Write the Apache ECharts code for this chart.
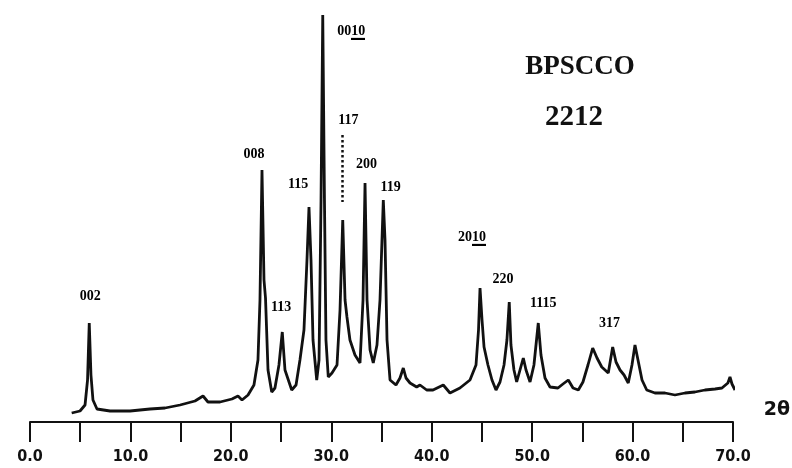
<!DOCTYPE html>
<html>
<head>
<meta charset="utf-8">
<script src="https://cdn.jsdelivr.net/npm/echarts@6/dist/echarts.min.js"></script>
<style>html,body{margin:0;padding:0;background:#fff;}#c{width:792px;height:468px;}</style>
</head>
<body>
<div id="c"></div>
<script>
// 2-theta (degrees)
const twoTheta = [4.15,4.98,5.48,5.73,5.90,6.07,6.27,6.67,7.97,9.96,11.95,13.44,14.94,16.43,17.23,17.72,18.92,20.11,20.71,21.11,21.71,22.30,22.70,22.90,23.10,23.30,23.45,23.70,24.07,24.39,24.79,25.12,25.39,26.06,26.49,26.88,27.28,27.58,27.78,27.98,28.18,28.55,28.78,28.98,29.15,29.32,29.47,29.70,30.07,30.57,30.87,31.14,31.37,31.56,31.86,32.36,32.86,33.16,33.36,33.56,33.86,34.18,34.55,34.85,35.18,35.35,35.55,35.85,36.44,36.84,37.17,37.44,37.84,38.50,38.83,39.50,40.13,41.15,41.82,42.81,43.81,44.41,44.66,44.81,45.01,45.21,45.60,46.00,46.40,46.80,47.20,47.49,47.72,47.89,48.19,48.46,48.79,49.12,49.39,49.79,50.18,50.61,50.88,51.28,51.78,52.57,53.07,53.60,54.07,54.60,55.06,55.56,56.03,56.46,56.93,57.58,58.02,58.35,58.75,59.15,59.57,59.94,60.24,60.54,60.94,61.41,62.23,63.23,64.22,65.22,66.21,67.21,68.21,68.90,69.49,69.70,69.90,70.20];
// intensity (arbitrary units)
const intensity = [9,11,17,42,99,47,22,13,11,11,13,14,17,21,26,20,20,23,26,22,27,37,62,122,252,142,124,52,30,34,57,90,52,32,37,62,92,162,215,162,82,42,62,222,407,222,82,45,49,57,112,202,122,105,82,67,59,122,239,122,72,59,77,122,222,182,82,42,37,44,54,44,39,35,37,32,32,37,29,34,42,57,92,134,102,75,57,42,32,40,57,82,120,77,52,40,52,64,52,40,57,99,67,44,35,34,38,42,34,32,40,57,74,64,55,49,75,60,52,47,39,57,77,62,42,32,29,29,27,29,30,32,33,34,39,45,38,32];
// peak labels (hkl); {u|..} marks the underlined index
const peakNames = ['002','008','113','115','00{u|10}','117','200','119','20{u|10}','220','1115','317'];
const labelX = [6.0,22.3,25.0,26.7,32.0,31.7,33.5,35.9,44.0,47.1,51.1,57.7];
const labelY = [126,268,115,238,391,302,258,235,185,143,119,99];
const xTicks = [0,10,20,30,40,50,60,70];

// small image used as an underline background for rich text
const ul = document.createElement('canvas');
ul.width = 10; ul.height = 20;
const g = ul.getContext('2d');
g.fillStyle = '#000'; g.fillRect(0, 18, 10, 2);

const chart = echarts.init(document.getElementById('c'), null, {renderer:'canvas'});
const lineData = twoTheta.map((t,i)=>[t,intensity[i]]);
const labelData = labelX.map((x,i)=>({value:[x,labelY[i]]}));
const serif = '"Liberation Serif", "DejaVu Serif", serif';
chart.setOption({
  animation:false,
  backgroundColor:'#fff',
  grid:{left:30,right:59,top:12,bottom:46},
  xAxis:{type:'value',min:0,max:70,interval:5,
    axisLine:{show:true,lineStyle:{color:'#111',width:2}},
    axisTick:{show:true,length:20,lineStyle:{color:'#111',width:2}},
    axisLabel:{margin:27,color:'#111',fontSize:16,fontWeight:'bold',fontFamily:'"DejaVu Sans Condensed", "Liberation Sans Narrow", "DejaVu Sans", sans-serif',
      formatter:v=> xTicks.indexOf(v)>=0 ? v.toFixed(1) : ''},
    splitLine:{show:false}},
  yAxis:{type:'value',min:0,max:410,show:false,splitLine:{show:false}},
  series:[
    {type:'line',data:lineData,showSymbol:false,symbol:'none',
      lineStyle:{color:'#111',width:2.8},
      markLine:{symbol:'none',silent:true,label:{show:false},
        lineStyle:{type:'dotted',color:'#111',width:2.5},
        data:[[{coord:[31.1,287]},{coord:[31.1,220]}]]}},
    {type:'scatter',data:labelData,symbolSize:0,silent:true,itemStyle:{opacity:1,color:'#111'},
      label:{show:true,position:'inside',color:'#000',opacity:1,fontSize:14,fontWeight:'bold',fontFamily:serif,
        formatter:p=>peakNames[p.dataIndex],
        rich:{u:{color:'#000',fontSize:14,fontWeight:'bold',fontFamily:serif,lineHeight:14,padding:[2,0,1,0],
          backgroundColor:{image:ul}}}}}
  ],
  graphic:[
    {type:'text',x:580,y:67,style:{text:'BPSCCO',fill:'#111',font:'bold 27px '+serif,textAlign:'center',textVerticalAlign:'middle'}},
    {type:'text',x:574,y:118,style:{text:'2212',fill:'#111',font:'bold 29px '+serif,textAlign:'center',textVerticalAlign:'middle'}},
    {type:'text',x:777,y:410,style:{text:'2θ',fill:'#111',font:'bold 19px "DejaVu Sans", sans-serif',textAlign:'center',textVerticalAlign:'middle'}}
  ]
});
</script>
</body>
</html>
